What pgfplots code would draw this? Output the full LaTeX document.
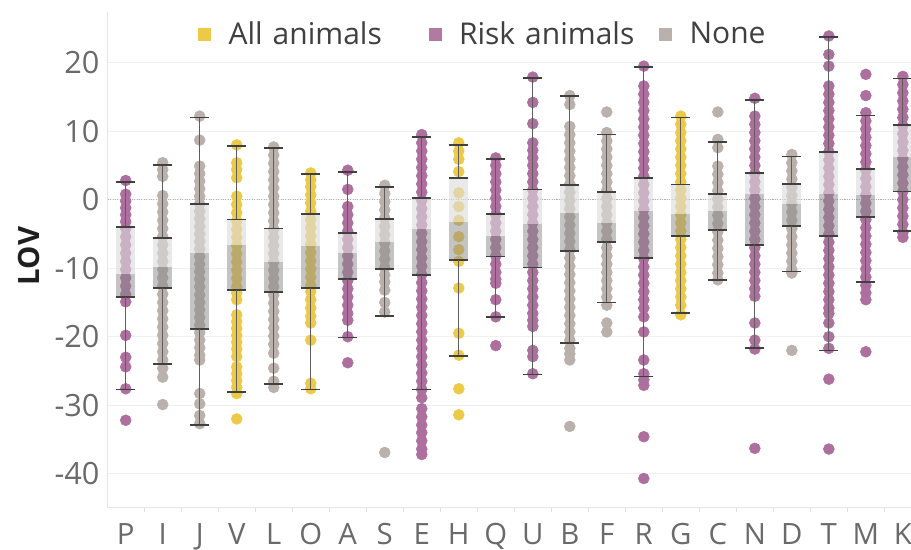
\documentclass[border=0pt]{standalone}
\usepackage{fontspec}
\setmainfont{Open Sans}
\usepackage{pgfplots}
\usepackage{pgfplotstable}
\pgfplotsset{compat=1.18}

\definecolor{goldc}{HTML}{EDC948}
\definecolor{purplec}{HTML}{B07AA1}
\definecolor{purpledot}{HTML}{AD709E}
\definecolor{grayc}{HTML}{BAB0AC}
\definecolor{boxlight}{HTML}{DCDCDC}
\definecolor{boxdark}{HTML}{8A8A8A}
\definecolor{whiskline}{HTML}{5E5E5E}
\definecolor{whiskcap}{HTML}{404040}
\definecolor{ticklab}{HTML}{6A6A6A}

% box statistics per category: lower whisker, Q1, median, Q3, upper whisker
\pgfplotstableread{
x  wlo    q1     med    q3    whi
0  -27.7  -14.2  -10.8  -4.0  2.6
1  -24.0  -12.9  -9.8   -5.6  5.1
2  -32.9  -18.9  -7.8   -0.6  12.0
3  -28.1  -13.2  -6.6   -2.9  7.8
4  -26.9  -13.5  -9.1   -4.2  7.5
5  -27.7  -12.9  -6.7   -2.1  3.8
6  -20.1  -11.6  -7.8   -4.9  4.0
7  -17.0  -10.1  -6.2   -2.8  1.8
8  -27.7  -11.0  -4.3   0.2   9.1
9  -22.8  -8.8   -3.3   3.2   8.0
10 -17.1  -8.3   -5.3   -2.1  5.9
11 -25.5  -9.9   -3.5   1.5   17.8
12 -20.9  -7.5   -1.9   2.1   15.1
13 -15.0  -6.2   -3.4   1.1   9.5
14 -25.8  -8.5   -1.6   3.2   19.4
15 -16.5  -5.3   -2.1   2.2   12.0
16 -11.7  -4.4   -1.7   0.8   8.4
17 -21.6  -6.6   0.8    3.9   14.6
18 -10.5  -3.8   -0.6   2.3   6.3
19 -22.0  -5.3   0.9    7.0   23.8
20 -12.0  -2.5   0.7    4.5   12.3
21 -4.6   1.2    6.3    10.9  17.7
}\boxstats

\begin{document}
\begin{tikzpicture}
\begin{axis}[
  scale only axis, width=602.5pt, height=372pt,
  xmin=-0.486, xmax=21.22, ymin=-45, ymax=27.4,
  clip marker paths=true,
  axis x line=bottom, axis y line=left,
  axis line style={-, draw=black!10, line width=0.8pt},
  xtick={0,...,21},
  xticklabels={P,I,J,V,L,O,A,S,E,H,Q,U,B,F,R,G,C,N,D,T,M,K},
  minor xtick={0.5,1.5,...,20.5},
  ytick={-40,-30,...,20},
  major tick length=0pt, minor tick length=3pt, tick align=outside,
  minor tick style={draw=black!12, line width=0.8pt},
  ymajorgrids, grid style={draw=black!6, line width=0.8pt},
  extra y ticks={0}, extra y tick labels={},
  extra y tick style={grid style={densely dotted, draw=black!30, line width=0.6pt}},
  /pgf/number format/assume math mode=true,
  yticklabel style={font=\fontsize{23}{23}\selectfont, text=ticklab, anchor=east, inner sep=0pt, xshift=-6pt},
  xticklabel style={font=\fontsize{22}{22}\selectfont, text=ticklab, anchor=north, inner sep=0pt, yshift=-11.5pt},
  ylabel={LOV},
  every axis y label/.style={at={(axis description cs:-0.098,0.508)}, rotate=90, anchor=center,
    font=\bfseries\fontsize{22}{22}\selectfont, text=black!88},
  legend style={at={(axis description cs:0.1124,0.956)}, anchor=west, draw=none, fill=none,
    inner sep=0pt, outer sep=0pt,
    font=\fontsize{22.5}{22.5}\selectfont, text=black!75,
    nodes={inner xsep=0pt, text width=150pt, align=left}},
  legend columns=3,
  % plots that only carry error bars draw nothing of their own
  barsonly/.style={forget plot, only marks, mark=text, text mark={}},
]

% legend swatches, one fixed-width cell per group
\addlegendimage{legend image code/.code={\fill[goldc] (0pt,-4.5pt) rectangle (9pt,4.5pt); \path (22.5pt,0pt);}}
\addlegendentry{All animals}
\addlegendimage{legend image code/.code={\fill[purplec] (0pt,-4.5pt) rectangle (9pt,4.5pt); \path (22.5pt,0pt);}}
\addlegendentry{Risk animals}
\addlegendimage{legend image code/.code={\fill[grayc] (0pt,-4.5pt) rectangle (9pt,4.5pt); \path (22.5pt,0pt);}}
\addlegendentry{None}

% individual values, one column of dots per category
\pgfplotsset{valuedots/.style={forget plot, only marks, mark=*, mark size=4.1pt, color=#1, line width=0.4pt}}

% Risk animals
\addplot[valuedots=purpledot] coordinates {
(0,2.8) (0,0.8) (0,-0.2) (0,-1.2) (0,-2.2) (0,-3.2) (0,-4.2) (0,-5.4) (0,-6.6) (0,-7.8) (0,-9.0) (0,-10.2) (0,-11.4) (0,-12.6) (0,-13.8) (0,-14.9) (0,-19.8) (0,-23.0) (0,-24.4) (0,-27.6) (0,-32.2)
(6,4.3) (6,1.5) (6,-1.0) (6,-2.2) (6,-3.4) (6,-4.6) (6,-5.8) (6,-7.0) (6,-8.2) (6,-9.4) (6,-10.6) (6,-11.8) (6,-13.0) (6,-14.2) (6,-15.4) (6,-16.6) (6,-17.6) (6,-20.0) (6,-23.8)
(8,9.5) (8,8.3) (8,7.1) (8,5.9) (8,4.7) (8,3.5) (8,2.3) (8,1.1) (8,-0.1) (8,-1.3) (8,-2.5) (8,-3.7) (8,-4.9) (8,-6.1) (8,-7.3) (8,-8.5) (8,-9.7) (8,-10.9) (8,-12.1) (8,-13.3) (8,-14.5) (8,-15.7) (8,-16.9) (8,-18.1) (8,-19.3) (8,-20.5) (8,-21.7) (8,-22.9) (8,-24.1) (8,-25.3) (8,-26.5) (8,-27.7) (8,-28.9) (8,-30.5) (8,-31.7) (8,-32.9) (8,-34.0) (8,-35.2) (8,-36.4) (8,-37.2)
(10,6.1) (10,5.0) (10,3.8) (10,2.6) (10,1.4) (10,0.2) (10,-1.0) (10,-2.2) (10,-3.4) (10,-4.6) (10,-5.8) (10,-7.0) (10,-8.2) (10,-9.4) (10,-10.6) (10,-11.6) (10,-12.2) (10,-14.6) (10,-17.1) (10,-21.3)
(11,17.9) (11,14.2) (11,11.1) (11,8.3) (11,7.2) (11,6.1) (11,5.0) (11,3.8) (11,2.6) (11,1.4) (11,0.2) (11,-1.0) (11,-2.2) (11,-3.4) (11,-4.6) (11,-5.8) (11,-7.0) (11,-8.2) (11,-9.4) (11,-10.6) (11,-11.8) (11,-13.0) (11,-14.2) (11,-15.4) (11,-16.6) (11,-17.6) (11,-18.5) (11,-22.0) (11,-22.9) (11,-25.4)
(14,19.5) (14,16.6) (14,15.4) (14,14.2) (14,13.0) (14,11.8) (14,10.6) (14,9.4) (14,8.2) (14,7.0) (14,5.8) (14,4.6) (14,3.4) (14,2.2) (14,1.0) (14,-0.2) (14,-1.4) (14,-2.6) (14,-3.8) (14,-5.0) (14,-6.2) (14,-7.4) (14,-8.6) (14,-9.8) (14,-11.0) (14,-12.2) (14,-13.4) (14,-14.6) (14,-15.8) (14,-17.1) (14,-19.3) (14,-23.4) (14,-25.4) (14,-26.3) (14,-27.1) (14,-34.6) (14,-40.7)
(17,14.8) (17,12.2) (17,11.0) (17,9.8) (17,8.6) (17,7.4) (17,6.2) (17,5.0) (17,3.8) (17,2.6) (17,1.4) (17,0.2) (17,-1.0) (17,-2.2) (17,-3.4) (17,-4.6) (17,-5.8) (17,-7.0) (17,-8.2) (17,-9.4) (17,-10.6) (17,-11.8) (17,-13.0) (17,-14.1) (17,-18.0) (17,-20.5) (17,-21.8) (17,-36.3)
(19,23.9) (19,21.2) (19,19.5) (19,16.6) (19,15.4) (19,14.2) (19,13.0) (19,11.8) (19,10.6) (19,9.4) (19,8.2) (19,7.0) (19,5.8) (19,4.6) (19,3.4) (19,2.2) (19,1.0) (19,-0.2) (19,-1.4) (19,-2.6) (19,-3.8) (19,-5.0) (19,-6.2) (19,-7.4) (19,-8.6) (19,-9.8) (19,-11.0) (19,-12.2) (19,-13.4) (19,-14.6) (19,-15.8) (19,-16.6) (19,-18.0) (19,-20.0) (19,-21.7) (19,-26.2) (19,-36.4)
(20,18.3) (20,15.2) (20,12.7) (20,11.5) (20,10.3) (20,9.1) (20,7.9) (20,6.7) (20,5.5) (20,4.3) (20,3.1) (20,1.9) (20,0.7) (20,-0.5) (20,-1.7) (20,-2.9) (20,-4.1) (20,-5.3) (20,-6.5) (20,-7.7) (20,-8.9) (20,-10.1) (20,-11.3) (20,-12.5) (20,-13.6) (20,-14.6) (20,-22.2)
(21,18.0) (21,16.8) (21,15.6) (21,14.4) (21,13.2) (21,12.0) (21,10.8) (21,9.6) (21,8.4) (21,7.2) (21,6.0) (21,4.8) (21,3.6) (21,2.4) (21,1.2) (21,0.0) (21,-1.2) (21,-2.4) (21,-3.6) (21,-4.8) (21,-5.5)
};

% None
\addplot[valuedots=grayc] coordinates {
(1,5.4) (1,4.4) (1,3.4) (1,0.6) (1,-0.6) (1,-1.8) (1,-3.0) (1,-4.2) (1,-5.4) (1,-6.6) (1,-7.8) (1,-9.0) (1,-10.2) (1,-11.4) (1,-12.6) (1,-13.8) (1,-15.0) (1,-16.2) (1,-17.4) (1,-18.6) (1,-19.8) (1,-21.0) (1,-22.2) (1,-23.4) (1,-24.6) (1,-25.9) (1,-29.9)
(2,12.2) (2,8.7) (2,4.9) (2,3.8) (2,2.7) (2,1.6) (2,0.5) (2,-0.6) (2,-1.7) (2,-2.8) (2,-3.9) (2,-5.0) (2,-6.1) (2,-7.2) (2,-8.3) (2,-9.4) (2,-10.5) (2,-11.6) (2,-12.7) (2,-13.9) (2,-15.0) (2,-16.1) (2,-17.2) (2,-18.3) (2,-19.4) (2,-20.5) (2,-21.6) (2,-22.7) (2,-23.4) (2,-28.3) (2,-29.8) (2,-31.5) (2,-32.7)
(4,7.7) (4,6.5) (4,5.3) (4,4.1) (4,2.9) (4,1.7) (4,0.5) (4,-0.7) (4,-1.9) (4,-3.1) (4,-4.3) (4,-5.5) (4,-6.7) (4,-7.9) (4,-9.1) (4,-10.3) (4,-11.5) (4,-12.7) (4,-13.9) (4,-15.1) (4,-16.3) (4,-17.5) (4,-18.7) (4,-19.9) (4,-21.1) (4,-22.4) (4,-24.6) (4,-26.5) (4,-27.4)
(7,2.1) (7,0.9) (7,-0.3) (7,-1.5) (7,-2.7) (7,-3.9) (7,-5.1) (7,-6.3) (7,-7.5) (7,-8.7) (7,-9.9) (7,-11.0) (7,-12.0) (7,-13.2) (7,-15.0) (7,-16.4) (7,-36.9)
(12,15.2) (12,13.9) (12,10.7) (12,9.5) (12,8.3) (12,7.1) (12,5.9) (12,4.7) (12,3.5) (12,2.3) (12,1.1) (12,-0.1) (12,-1.3) (12,-2.5) (12,-3.7) (12,-4.9) (12,-6.1) (12,-7.3) (12,-8.5) (12,-9.7) (12,-10.9) (12,-12.1) (12,-13.3) (12,-14.5) (12,-15.7) (12,-16.9) (12,-18.1) (12,-19.3) (12,-20.5) (12,-21.7) (12,-22.5) (12,-23.4) (12,-33.1)
(13,12.8) (13,9.8) (13,8.6) (13,7.4) (13,6.2) (13,5.0) (13,3.8) (13,2.6) (13,1.4) (13,0.2) (13,-1.0) (13,-2.2) (13,-3.4) (13,-4.6) (13,-5.8) (13,-7.0) (13,-8.2) (13,-9.4) (13,-10.6) (13,-11.8) (13,-13.0) (13,-14.2) (13,-15.4) (13,-18.0) (13,-19.3)
(16,12.8) (16,8.8) (16,7.6) (16,4.9) (16,3.7) (16,2.5) (16,1.3) (16,0.1) (16,-1.1) (16,-2.3) (16,-3.5) (16,-4.7) (16,-5.9) (16,-7.1) (16,-8.3) (16,-9.5) (16,-10.7) (16,-11.7)
(18,6.6) (18,5.4) (18,4.2) (18,3.0) (18,1.8) (18,0.6) (18,-0.6) (18,-1.8) (18,-3.0) (18,-4.2) (18,-5.4) (18,-6.6) (18,-7.8) (18,-9.0) (18,-10.2) (18,-10.7) (18,-22.0)
};

% All animals
\addplot[valuedots=goldc] coordinates {
(3,8.0) (3,5.4) (3,4.4) (3,3.2) (3,0.5) (3,-0.7) (3,-1.9) (3,-3.1) (3,-4.3) (3,-5.5) (3,-6.7) (3,-7.9) (3,-9.1) (3,-10.3) (3,-11.5) (3,-12.7) (3,-13.6) (3,-14.6) (3,-16.8) (3,-17.8) (3,-18.8) (3,-19.8) (3,-20.8) (3,-21.8) (3,-22.9) (3,-24.4) (3,-25.4) (3,-26.4) (3,-27.4) (3,-28.3) (3,-32.0)
(5,3.9) (5,2.9) (5,1.9) (5,0.7) (5,-0.5) (5,-1.7) (5,-2.9) (5,-4.1) (5,-5.3) (5,-6.5) (5,-7.7) (5,-8.9) (5,-10.1) (5,-11.3) (5,-12.5) (5,-13.4) (5,-14.6) (5,-15.8) (5,-17.0) (5,-18.0) (5,-20.5) (5,-26.8) (5,-27.6)
(9,8.3) (9,7.1) (9,5.9) (9,4.1) (9,1.0) (9,-1.0) (9,-3.0) (9,-5.4) (9,-7.3) (9,-9.0) (9,-12.9) (9,-19.5) (9,-22.7) (9,-27.6) (9,-31.4)
(15,12.2) (15,11.0) (15,9.8) (15,8.6) (15,7.4) (15,6.2) (15,5.0) (15,3.8) (15,2.6) (15,1.4) (15,0.2) (15,-1.0) (15,-2.2) (15,-3.4) (15,-4.6) (15,-5.8) (15,-7.0) (15,-8.2) (15,-9.4) (15,-10.6) (15,-11.8) (15,-13.0) (15,-14.2) (15,-15.4) (15,-16.8)
};

% boxes: median to Q3 (light), Q1 to median (dark)
\addplot[barsonly,
  error bars/.cd, y dir=plus, y explicit, error mark=none,
  error bar style={line width=14.25pt, draw=boxlight, draw opacity=0.62}]
  table[x=x, y=med, y error expr=\thisrow{q3}-\thisrow{med}] {\boxstats};
\addplot[barsonly,
  error bars/.cd, y dir=plus, y explicit, error mark=none,
  error bar style={line width=14.25pt, draw=boxdark, draw opacity=0.5}]
  table[x=x, y=q1, y error expr=\thisrow{med}-\thisrow{q1}] {\boxstats};

% whiskers with caps at the quartiles and the whisker ends
\addplot[barsonly,
  error bars/.cd, y dir=both, y explicit, error mark=|,
  error bar style={line width=0.8pt, draw=whiskline},
  error mark options={line width=1.3pt, mark size=7.1pt, draw=whiskcap}]
  table[x=x, y=q3, y error plus expr=\thisrow{whi}-\thisrow{q3}, y error minus expr=0] {\boxstats};
\addplot[barsonly,
  error bars/.cd, y dir=both, y explicit, error mark=|,
  error bar style={line width=0.8pt, draw=whiskline},
  error mark options={line width=1.3pt, mark size=7.1pt, draw=whiskcap}]
  table[x=x, y=q1, y error plus expr=0, y error minus expr=\thisrow{q1}-\thisrow{wlo}] {\boxstats};

\end{axis}
\pgfresetboundingbox
\path[use as bounding box] ([shift={(-80.8pt,-31.5pt)}]current axis.south west)
  rectangle ([shift={(0pt,9pt)}]current axis.north east);
\end{tikzpicture}
\end{document}
